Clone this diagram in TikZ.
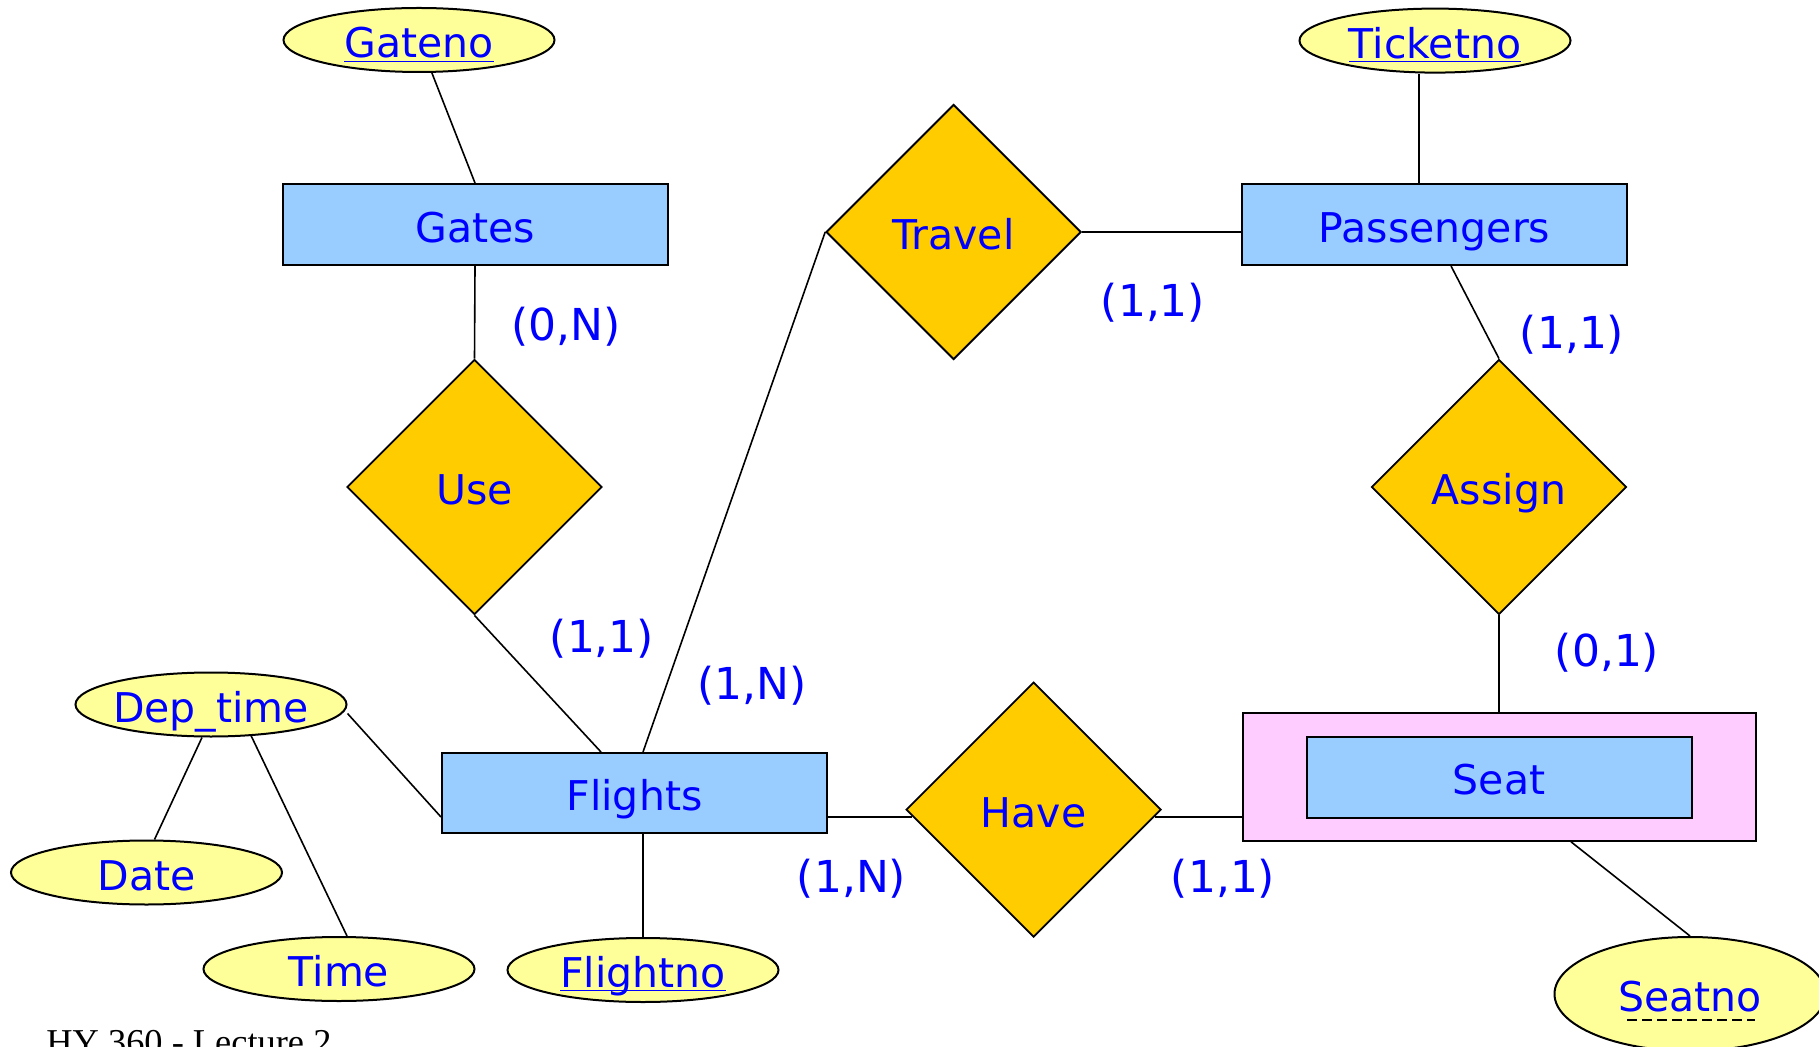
\documentclass[tikz,border=0pt]{standalone}
\usepackage{fontspec}
\setmainfont{DejaVu Sans}
\newfontfamily\footfont{Liberation Serif}
\usetikzlibrary{shapes.geometric,calc}
\definecolor{entfill}{HTML}{99CCFF}
\definecolor{relfill}{HTML}{FFCC00}
\definecolor{attfill}{HTML}{FFFF99}
\definecolor{weakfill}{HTML}{FFCCFF}
\definecolor{txtblue}{HTML}{0000FF}
\begin{document}
\begin{tikzpicture}[x=0.5pt,y=-0.5pt,
 nodefont/.style={font=\fontsize{20.5}{24}\selectfont, text height=17.9pt, text depth=0pt},
 entity/.style={rectangle, draw, line width=1pt, fill=entfill, minimum width=192.5pt, minimum height=40.5pt, inner sep=0pt, text=txtblue, nodefont},
 rel/.style={diamond, draw, line width=0.9pt, fill=relfill, minimum width=127.5pt, minimum height=127.5pt, inner sep=0pt, text=txtblue, nodefont},
 attr/.style={ellipse, draw, line width=1pt, fill=attfill, minimum width=135.5pt, minimum height=32pt, inner sep=0pt, text=txtblue, nodefont},
 card/.style={text=txtblue, font=\fontsize{22}{26}\selectfont, inner sep=0pt},
 conn/.style={line width=0.8pt}]
\useasboundingbox (0,0) rectangle (1819,1047);
\clip (0,0) rectangle (1819,1047);
\fill[white] (0,0) rectangle (1819,1047);

% nodes
\node[attr] (Gateno) at (419,40) {\makebox[0pt]{\underline{Gateno}}};
\node[entity] (Gates) at (475,224.5) {Gates};
\node[rel] (Use) at (474.5,487) {Use};
\node[rel] (Travel) at (953.6,232) {Travel};
\node[entity] (Passengers) at (1434.5,224.5) {Passengers};
\node[attr] (Ticketno) at (1435,40.6) {\makebox[0pt]{\underline{Ticketno}}};
\node[rel] (Assign) at (1499,487) {Assign};
\node[rectangle, draw, line width=1pt, fill=weakfill, minimum width=256.5pt, minimum height=63.8pt] (Seatout) at (1499,777) {};
\node[entity] (Seat) at (1499,777) {Seat};
\node[attr, minimum height=57pt] (Seatno) at (1690,994) {\makebox[0pt]{Seatno}};
\node[entity, minimum height=40pt] (Flights) at (634.5,793) {Flights};
\node[rel] (Have) at (1033.6,809.7) {Have};
\node[attr] (Flightno) at (643,970) {\makebox[0pt]{\underline{\raisebox{0pt}[\height][0pt]{Flightno}}}};
\node[attr] (Deptime) at (211,704.5) {\makebox[0pt]{Dep\_time}};
\node[attr] (Date) at (146.5,872.5) {\makebox[0pt]{Date}};
\node[attr] (Time) at (339,969) {\makebox[0pt]{Time}};

% connectors
\draw[conn] (Gates.north) -- (Gateno);
\draw[conn] (Gates.south) -- (Use.north);
\draw[conn] (Use.south) -- ($(Flights.north)+(-33.5,0)$);
\draw[conn] (Travel.west) -- ($(Flights.north)+(8.5,0)$);
\draw[conn] (Travel.east) -- (Travel.east -| Passengers.west);
\coordinate (pt) at ($(Passengers.north)+(-15.5,0)$);
\draw[conn] (pt) -- (pt |- Ticketno.south);
\draw[conn] ($(Passengers.south)+(16.5,0)$) -- (Assign.north);
\draw[conn] (Assign.south) -- (Seatout.north);
\coordinate (fh) at ($(Flights.east)+(0,24)$);
\coordinate (hw) at ($(Have.west)+(7,0)$);
\draw[conn] (fh) -- (fh -| hw);
\coordinate (sw) at ($(Seatout.west)+(0,40)$);
\coordinate (he) at ($(Have.east)+(-7,0)$);
\draw[conn] (sw) -- (sw -| he);
\draw[conn] ($(Seatout.south)+(72,0)$) -- (Seatno.north);
\draw[conn] ($(Flights.south)+(8.5,0)$) -- (Flightno.north);
\draw[conn] ($(Flights.west)+(0,24)$) -- ($(Deptime.east)+(0,9)$);
\draw[conn] ($(Deptime.south)+(-9,0)$) -- ($(Date.north)+(8,0)$);
\draw[conn] ($(Deptime.south)+(40,-2)$) -- ($(Time.north)+(8,0)$);

% dashed underline of partial key
\draw[line width=1pt, dash pattern=on 5pt off 2.5pt] ($(Seatno.center)+(-63,26)$) -- ($(Seatno.center)+(65,26)$);

% cardinalities
\node[card] (l1) at (566,327) {(0,N)};
\node[card] (l2) at (602,639) {(1,1)};
\node[card] (l3) at (752,686) {(1,N)};
\node[card] (l4) at (1153,303) {(1,1)};
\node[card] (l5) at (1572,335) {(1,1)};
\node[card] (l6) at (1607,653) {(0,1)};
\node[card] (l7) at (851.5,879) {(1,N)};
\node[card] (l8) at (1223,879) {(1,1)};

% footer
\node[anchor=base west, inner sep=0pt, font=\footfont\fontsize{18.2}{20}\selectfont] (foot) at (46,1054) {HY 360 - Lecture 2};
\end{tikzpicture}
\end{document}
